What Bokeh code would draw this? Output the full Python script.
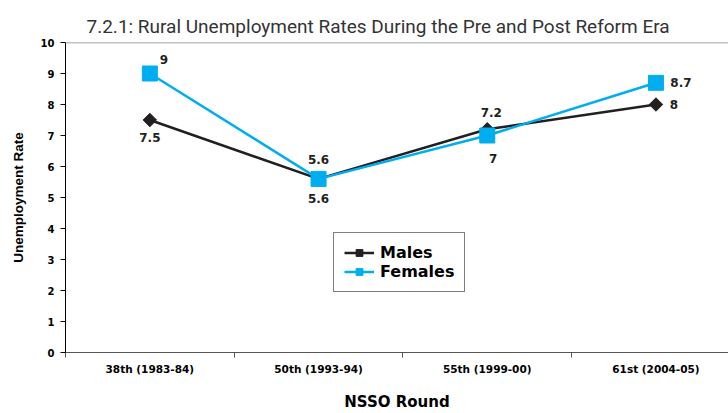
import math
from bokeh.plotting import figure
from bokeh.models import ColumnDataSource, FixedTicker, Span, Legend, LegendItem, Range1d
from bokeh.core.properties import value
from bokeh.embed import file_html
from bokeh.resources import INLINE

rounds = ["38th (1983-84)", "50th (1993-94)", "55th (1999-00)", "61st (2004-05)"]
males = [7.5, 5.6, 7.2, 8.0]
females = [9.0, 5.6, 7.0, 8.7]

# label placement (pixel offsets) for each point's value text
male_dx = [0, 0, 4, 18]
male_dy = [17, -19, -17, 0]
female_dx = [14, 0, 6, 25]
female_dy = [-14, 20, 23, 0]

xs = [i + 0.5 for i in range(len(rounds))]
fmt = lambda v: f"{v:g}"

BLACK = "#231f20"
BLUE = "#00aeef"
WIDE = "DejaVu Sans"
ARIAL = "Liberation Sans"

p = figure(width=728, height=413, output_backend="svg", toolbar_location=None,
           x_range=Range1d(0, 3.93), y_range=Range1d(0, 10),
           min_border_left=65, min_border_right=0, min_border_top=42, min_border_bottom=61,
           background_fill_color="white", border_fill_color="white")
p.outline_line_color = None
p.grid.visible = False

p.title.text = "7.2.1: Rural Unemployment Rates During the Pre and Post Reform Era"
p.title.text_font = "Roboto"
p.title.text_font_style = "normal"
p.title.text_font_size = "19px"
p.title.text_color = "#333333"
p.title.align = "left"
p.title.offset = 21

# y axis
p.yaxis.ticker = FixedTicker(ticks=list(range(0, 11)))
p.yaxis.axis_label = "Unemployment Rate"
p.yaxis.axis_label_text_font = ARIAL
p.yaxis.axis_label_text_font_style = "bold"
p.yaxis.axis_label_text_font_size = "13.5px"
p.yaxis.axis_label_text_color = "black"
p.yaxis.axis_label_standoff = 12
p.yaxis.major_label_text_font = WIDE
p.yaxis.major_label_text_font_style = "bold"
p.yaxis.major_label_text_font_size = "10px"
p.yaxis.major_label_text_color = "black"
p.yaxis.major_label_standoff = 6
p.yaxis.major_tick_out = 5
p.yaxis.major_tick_in = 0
p.yaxis.minor_tick_line_color = None
p.yaxis.axis_line_color = "black"
p.yaxis.major_tick_line_color = "black"

# x axis: labels at category centres, ticks at category boundaries
p.xaxis.ticker = FixedTicker(ticks=xs, minor_ticks=[0, 1, 2, 3, 4])
p.xaxis.major_label_overrides = {x: r for x, r in zip(xs, rounds)}
p.xaxis.major_tick_out = 0
p.xaxis.major_tick_in = 0
p.xaxis.minor_tick_out = 5
p.xaxis.minor_tick_in = 0
p.xaxis.minor_tick_line_color = "#555555"
p.xaxis.axis_line_color = "#555555"
p.xaxis.major_label_text_font = WIDE
p.xaxis.major_label_text_font_style = "bold"
p.xaxis.major_label_text_font_size = "10.5px"
p.xaxis.major_label_text_color = "black"
p.xaxis.major_label_standoff = 5
p.xaxis.axis_label = "NSSO Round"
p.xaxis.axis_label_text_font = WIDE
p.xaxis.axis_label_text_font_style = "bold"
p.xaxis.axis_label_text_font_size = "15px"
p.xaxis.axis_label_text_color = "black"
p.xaxis.axis_label_standoff = 15

p.add_layout(Span(location=10, dimension="width", line_color="#888888", line_width=1.5))

src = ColumnDataSource(dict(
    x=xs, males=males, females=females,
    mlab=[fmt(v) for v in males], flab=[fmt(v) for v in females],
    mdx=male_dx, mdy=male_dy, fdx=female_dx, fdy=female_dy,
))

ml = p.line("x", "males", source=src, line_color=BLACK, line_width=2.5)
mm = p.scatter("x", "males", source=src, marker="square", angle=math.pi / 4, size=9.5,
               fill_color=BLACK, line_color=BLACK)
fl = p.line("x", "females", source=src, line_color=BLUE, line_width=2.5)
fm = p.scatter("x", "females", source=src, marker="square", size=15, fill_color=BLUE, line_color=BLUE)

p.text("x", "males", text="mlab", source=src, x_offset="mdx", y_offset="mdy",
       text_font=value(WIDE), text_font_style="bold", text_font_size="12px",
       text_color=BLACK, text_align="center", text_baseline="middle")
p.text("x", "females", text="flab", source=src, x_offset="fdx", y_offset="fdy",
       text_font=value(WIDE), text_font_style="bold", text_font_size="12px",
       text_color=BLACK, text_align="center", text_baseline="middle")

legend = Legend(items=[LegendItem(label="Males", renderers=[ml, mm]),
                       LegendItem(label="Females", renderers=[fl, fm])],
                location=(268, 60), orientation="vertical")
legend.label_text_font = WIDE
legend.label_text_font_style = "bold"
legend.label_text_font_size = "16px"
legend.label_text_color = "black"
legend.border_line_color = "black"
legend.border_line_width = 1
legend.glyph_width = 30
legend.glyph_height = 17
legend.label_height = 17
legend.spacing = 0
legend.padding = 10
legend.margin = 0
legend.label_standoff = 6
legend.background_fill_alpha = 1
p.add_layout(legend, "center")

open("out.html", "w").write(file_html(p, INLINE))
